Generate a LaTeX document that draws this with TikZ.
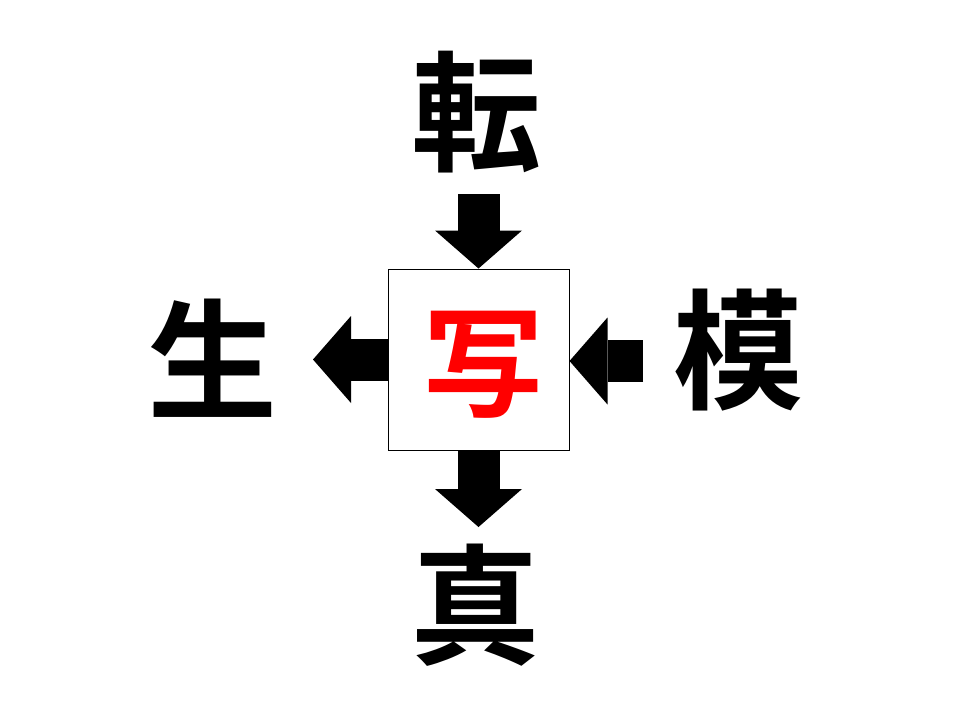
\documentclass[tikz,border=0pt]{standalone}
\usepackage{fontspec}
\usepackage{tikz}
\usetikzlibrary{arrows.meta}
\usetikzlibrary{positioning}
\newfontfamily\jpfont{Noto Sans CJK JP Bold}

\begin{document}
\begin{tikzpicture}[x=1pt, y=-1pt]
	\fill[white] (0,0) rectangle (960,720);
	\useasboundingbox (0,0) rectangle (960,720);
	\begin{scope}[every node/.style={inner sep=0pt, font=\jpfont\fontsize{130pt}{130pt}\selectfont}]
		\node (ten) at (476,112) {転};
		\node (shin) at (475,605) {真};
		\node (sei) at (212,358) {生};
		\node (mo) at (738,350) {模};
		\node[draw, line width=1pt, minimum size=181pt] (box) at (478.5,359.5) {};
		\node[text=red, font=\jpfont\fontsize{120pt}{120pt}\selectfont] (sha) at (483,365) {写};
	\end{scope}
	\\
	\coordinate (topin) at (478.5,194);
	\coordinate (botout) at (478.5,527);
	\coordinate (leftout) at (313,359.5);
	\coordinate (rightin) at (643,361);
	\begin{scope}[every path/.style={line width=42pt, draw=black},
	              >={Triangle[length=38pt, width=87pt, line width=0pt]}]
		\draw[->] (topin) -- (box.north);
		\draw[->] (box.south) -- (botout);
		\draw[->] (box.west) -- (leftout);
		\draw[->] (rightin) -- (rightin -| box.east);
	\end{scope}
\end{tikzpicture}
\end{document}
